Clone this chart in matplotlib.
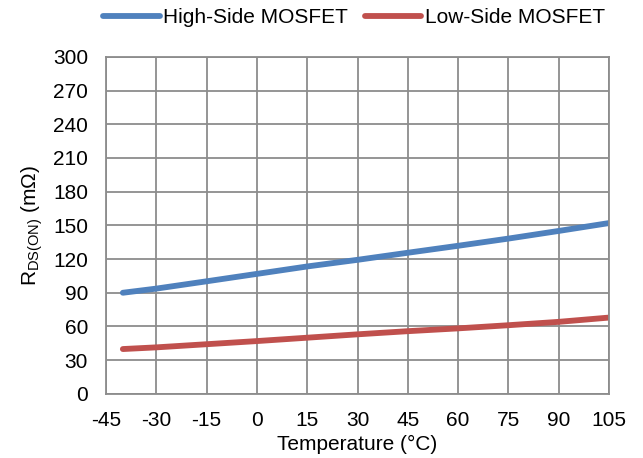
import matplotlib.pyplot as plt
import numpy as np

plt.rcParams['font.family'] = ['Liberation Sans', 'DejaVu Sans']
plt.rcParams['mathtext.fontset'] = 'custom'
plt.rcParams['mathtext.rm'] = 'Liberation Sans'
plt.rcParams['axes.unicode_minus'] = False

# Werte
temp = [-40, -30, -15, 0, 15, 30, 45, 60, 75, 90, 105]
high_side = [90.0, 93.7, 100.2, 106.8, 113.4, 119.3, 125.6, 131.8, 138.2, 145.0, 152.0]
low_side = [39.9, 41.4, 44.2, 47.0, 50.0, 53.0, 55.8, 58.3, 61.1, 64.1, 67.9]

x_ticks = np.arange(-45, 106, 15)
y_ticks = np.arange(0, 301, 30)

fs = 15

fig = plt.figure(figsize=(6.43, 4.58), dpi=100)
ax = fig.add_axes([0.165, 0.140, 0.782, 0.736])

ax.plot(temp, high_side, color='#4F81BD', lw=4.2, solid_capstyle='round', label='High-Side MOSFET')
ax.plot(temp, low_side, color='#C0504D', lw=4.2, solid_capstyle='round', label='Low-Side MOSFET')

ax.set_xlim(-45, 105)
ax.set_ylim(0, 300)
ax.set_xticks(x_ticks)
ax.set_yticks(y_ticks)
ax.tick_params(length=0, labelsize=fs, colors='black')
ax.tick_params(axis='x', pad=12)
ax.tick_params(axis='y', pad=13)
ax.grid(True, color='#8C8C8C', lw=1.3)
ax.set_axisbelow(True)
for s in ax.spines.values():
    s.set_color('#8C8C8C')
    s.set_linewidth(1.3)

ax.set_xlabel('Temperature (°C)', fontsize=fs, labelpad=4)
ax.set_ylabel(r'R$_{\mathregular{DS(ON)}}$ (mΩ)', fontsize=fs, labelpad=6)

ax.legend(loc='center', bbox_to_anchor=(0.493, 1.116), ncol=2, frameon=False,
          fontsize=fs, handlelength=2.7, handletextpad=0.15, columnspacing=0.85,
          borderaxespad=0, borderpad=0)

fig.savefig('out.png', dpi=100)
